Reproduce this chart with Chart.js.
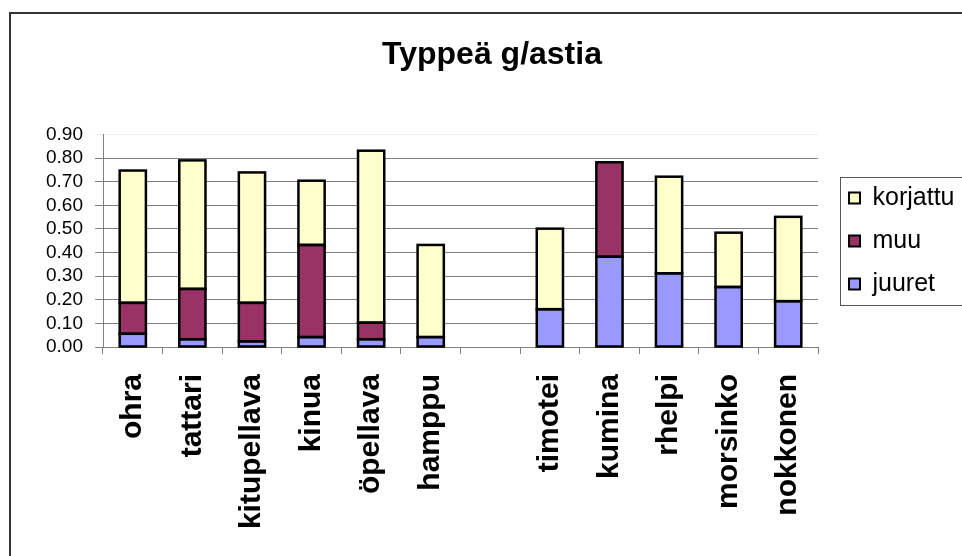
<!DOCTYPE html>
<html>
<head>
<meta charset="utf-8">
<script src="https://cdn.jsdelivr.net/npm/chart.js@4.4.0/dist/chart.umd.min.js"></script>
<style>
  html, body { margin: 0; padding: 0; background: #fff; }
  #wrap { width: 962px; height: 556px; }
</style>
</head>
<body>
<div id="wrap"><canvas id="typpiChart" width="962" height="556"></canvas></div>
<script>
// kasvit (tyhjä väli hampun ja timotein välissä)
const kasvit = ['ohra', 'tattari', 'kitupellava', 'kinua', 'öpellava', 'hamppu', '',
                'timotei', 'kumina', 'rhelpi', 'morsinko', 'nokkonen'];
const juuret   = [0.056, 0.033, 0.024, 0.042, 0.033, 0.042, null, 0.160, 0.382, 0.312, 0.254, 0.194];
const muu      = [0.131, 0.213, 0.163, 0.390, 0.070, null,  null, null,  0.400, null,  null,  null];
const korjattu = [0.560, 0.544, 0.552, 0.272, 0.728, 0.390, null, 0.341, null,  0.409, 0.230, 0.357];
const yTicks = [0, 0.1, 0.2, 0.3, 0.4, 0.5, 0.6, 0.7, 0.8, 0.9];

const FONT = 'Arial, "Liberation Sans", sans-serif';

// valkoinen tausta, kehys, palkkien reunat, selitteen paikka ja laatikko
const framePlugin = {
    id: 'frame',
    beforeLayout(chart){
        const lg = chart.legend;
        if(lg && !lg._wrapped){
            const f = lg.fit.bind(lg);
            lg.fit = function(){ f(); this.width = 144; };
            lg._wrapped = true;
        }
    },
    afterUpdate(chart){
        const lg = chart.legend;
        const hb = lg.legendHitBoxes;
        if(hb && hb.length){
            const dx = 849 - hb[0].left;
            const dy = 198 - (hb[0].top + hb[0].height / 2);
            lg.left += dx; lg.right += dx; lg.top += dy; lg.bottom += dy;
            hb.forEach(h => { h.left += dx; h.top += dy; });
        }
        const t = chart.titleBlock;
        if(t){ t.left += 5; t.right += 5; }
    },
    beforeDraw(chart){
        const c = chart.ctx;
        c.save();
        c.fillStyle = '#fff';
        c.fillRect(0, 0, chart.width, chart.height);
        c.strokeStyle = '#333';
        c.lineWidth = 2;
        c.strokeRect(10, 13, chart.width + 20, chart.height + 20);
        c.restore();
    },
    afterDatasetsDraw(chart){
        const c = chart.ctx;
        c.save();
        c.strokeStyle = '#000';
        c.lineWidth = 2.5;
        chart.data.datasets.forEach((ds, i) => {
            const meta = chart.getDatasetMeta(i);
            meta.data.forEach((bar, j) => {
                if(ds.data[j] == null) return;
                const p = bar.getProps(['x', 'y', 'base', 'width'], true);
                c.strokeRect(p.x - p.width / 2, p.y, p.width, p.base - p.y);
            });
        });
        c.restore();
    },
    afterDraw(chart){
        const hb = chart.legend.legendHitBoxes;
        if(!hb || !hb.length) return;
        const first = hb[0], last = hb[hb.length - 1];
        const top = first.top + first.height / 2 - 21;
        const bottom = last.top + last.height / 2 + 21;
        const c = chart.ctx;
        c.save();
        c.strokeStyle = '#555';
        c.lineWidth = 1;
        c.strokeRect(840.5, Math.round(top) + 0.5, chart.width, Math.round(bottom - top));
        c.restore();
    }
};

const ctx = document.getElementById('typpiChart').getContext('2d');
const myChart = new Chart(ctx, {
    type: 'bar',
    data: {
        labels: kasvit,
        datasets: [
            { label: 'juuret', data: juuret, backgroundColor: '#9999FF' },
            { label: 'muu', data: muu, backgroundColor: '#993366' },
            { label: 'korjattu', data: korjattu, backgroundColor: '#FFFFCC' }
        ].map(d => Object.assign(d, {
            borderColor: '#000',
            borderWidth: 0,
            categoryPercentage: 1.0,
            barPercentage: 0.44
        }))
    },
    options: {
        responsive: false,
        animation: false,
        devicePixelRatio: 1,
        layout: { padding: { left: 12, top: 26, right: 0, bottom: 0 } },
        plugins: {
            title: {
                display: true,
                text: 'Typpeä g/astia',
                color: '#000',
                font: { family: FONT, size: 32, weight: 'bold', lineHeight: 1.2 },
                padding: { top: 10, bottom: 60 }
            },
            legend: {
                display: true,
                position: 'right',
                reverse: true,
                labels: {
                    color: '#000',
                    boxWidth: 11,
                    boxHeight: 11,
                    padding: 18,
                    font: { family: FONT, size: 25 },
                    generateLabels(chart){
                        const items = Chart.defaults.plugins.legend.labels.generateLabels(chart);
                        items.forEach(i => { i.lineWidth = 2; i.strokeStyle = '#000'; });
                        return items;
                    }
                }
            },
            tooltip: { enabled: false }
        },
        scales: {
            x: {
                stacked: true,
                afterFit(scale){ scale.height = 209; },
                grid: { drawOnChartArea: false, drawTicks: true, tickLength: 7, color: '#808080', offset: true },
                border: { color: '#808080', width: 1 },
                ticks: {
                    color: '#000',
                    minRotation: 90,
                    maxRotation: 90,
                    autoSkip: false,
                    padding: 20,
                    font: { family: FONT, size: 30, weight: 'bold' }
                }
            },
            y: {
                stacked: true,
                min: 0,
                max: 0.9,
                afterFit(scale){ scale.width = 91; },
                afterBuildTicks(scale){ scale.ticks = yTicks.map(v => ({ value: v })); },
                grid: {
                    color: (c) => (c.tick && c.tick.value >= 0.9 ? '#ececec' : '#808080'),
                    tickLength: 8
                },
                border: { color: '#808080', width: 1 },
                ticks: {
                    color: '#000',
                    autoSkip: false,
                    padding: 12,
                    font: { family: FONT, size: 19 },
                    callback: (v) => Number(v).toFixed(2)
                }
            }
        }
    },
    plugins: [framePlugin]
});
</script>
</body>
</html>
